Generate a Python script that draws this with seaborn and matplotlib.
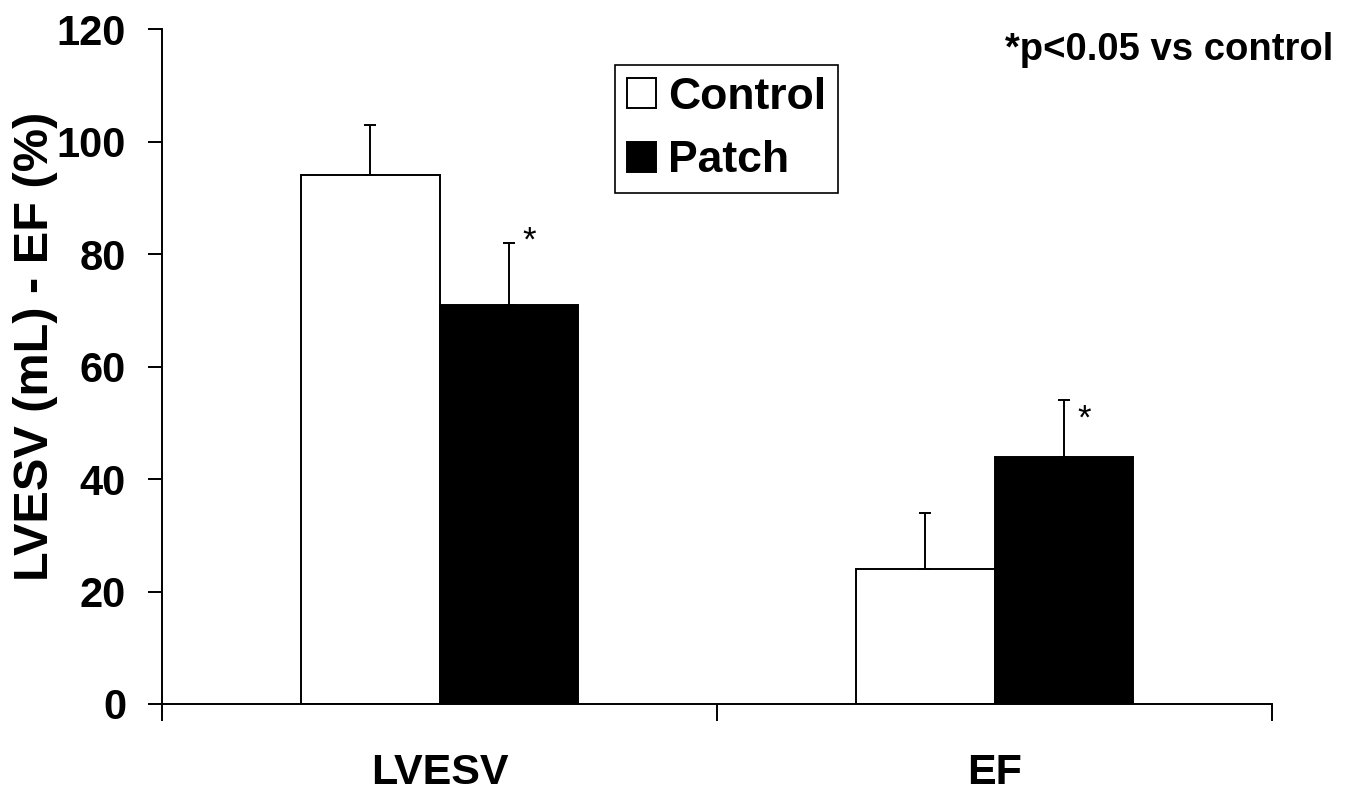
import pandas as pd
import numpy as np
import matplotlib
matplotlib.use('Agg')
import matplotlib.pyplot as plt
import seaborn as sns

# values
measures = ['LVESV', 'EF']
groups = ['Control', 'Patch']
control_vals = [94, 24]
patch_vals = [71, 44]
control_err = [9, 10]
patch_err = [11, 10]
y_ticks = [0, 20, 40, 60, 80, 100, 120]
significant = [True, True]  # patch vs control, per measure

sns.set_style('white')
plt.rcParams['font.family'] = ['Liberation Sans', 'DejaVu Sans']
plt.rcParams['font.weight'] = 'bold'
for k in ['text.color', 'axes.labelcolor', 'xtick.color', 'ytick.color']:
    plt.rcParams[k] = 'black'


def main():
    df = pd.DataFrame({
        'measure': measures * 2,
        'group': [groups[0]] * len(measures) + [groups[1]] * len(measures),
        'value': control_vals + patch_vals,
    })
    errs = {'Control': control_err, 'Patch': patch_err}

    fig = plt.figure(figsize=(13.51, 7.91), dpi=100)
    ax = fig.add_axes([0.12, 0.11, 0.8215, 0.853])

    sns.barplot(data=df, x='measure', y='value', hue='group', order=measures,
                hue_order=groups, palette={'Control': 'white', 'Patch': 'black'},
                edgecolor='black', linewidth=1.4, width=0.5, errorbar=None,
                saturation=1, ax=ax)

    # upper-only error bars, placed on the bars seaborn drew
    star_dy = [0.4, -3.3]  # asterisk sits a bit differently on each group
    for cont, g in zip(ax.containers, groups):
        xs = [b.get_x() + b.get_width() / 2 for b in cont]
        hs = [b.get_height() for b in cont]
        ax.errorbar(xs, hs, yerr=[np.zeros(len(hs)), errs[g]], fmt='none',
                    ecolor='black', elinewidth=1.4, capsize=4, capthick=1.4)
        if g == 'Patch':
            for x, h, e, s, dy in zip(xs, hs, errs[g], significant, star_dy):
                if s:
                    ax.text(x + 0.025, h + e + dy, '*', fontsize=25,
                            fontweight='normal', ha='left', va='center')

    ax.set_xlim(-0.5, 1.5)
    ax.set_ylim(0, 120)
    ax.set_yticks(y_ticks)
    ax.set_xlabel('')
    ax.set_ylabel('LVESV (mL) - EF (%)', fontsize=35, fontweight='bold')
    ax.yaxis.set_label_coords(-0.094, 0.53)

    for side in ['top', 'right']:
        ax.spines[side].set_visible(False)
    for side in ['left', 'bottom']:
        ax.spines[side].set_linewidth(1.4)
        ax.spines[side].set_color('black')

    ax.tick_params(axis='y', which='major', direction='out', length=10, width=1.4,
                   labelsize=30, pad=16, left=True)
    ax.tick_params(axis='x', which='major', length=0, labelsize=31, pad=35)
    ax.set_xticks([-0.5, 0.5, 1.5], minor=True)
    ax.tick_params(axis='x', which='minor', direction='out', length=12, width=1.4,
                   bottom=True)
    for lab in ax.get_xticklabels() + ax.get_yticklabels():
        lab.set_fontweight('bold')

    handles, labels = ax.get_legend_handles_labels()
    leg = ax.legend(handles, labels, loc='upper left',
                    bbox_to_anchor=(615 / 1351, 1 - 65 / 791),
                    bbox_transform=fig.transFigure, borderaxespad=0,
                    fontsize=32, frameon=True, fancybox=False, framealpha=1,
                    edgecolor='black', handlelength=0.66, handleheight=0.66,
                    handletextpad=0.27, labelspacing=0.5, borderpad=0.27)
    leg.get_frame().set_linewidth(1.2)
    for t in leg.get_texts():
        t.set_fontweight('bold')

    fig.text(1333 / 1351, 1 - 50 / 791, '*p<0.05 vs control', fontsize=27.5,
             fontweight='bold', ha='right', va='center')

    fig.savefig('out.png', dpi=100, facecolor='white')
    plt.close(fig)


if __name__ == "__main__":
    main()
